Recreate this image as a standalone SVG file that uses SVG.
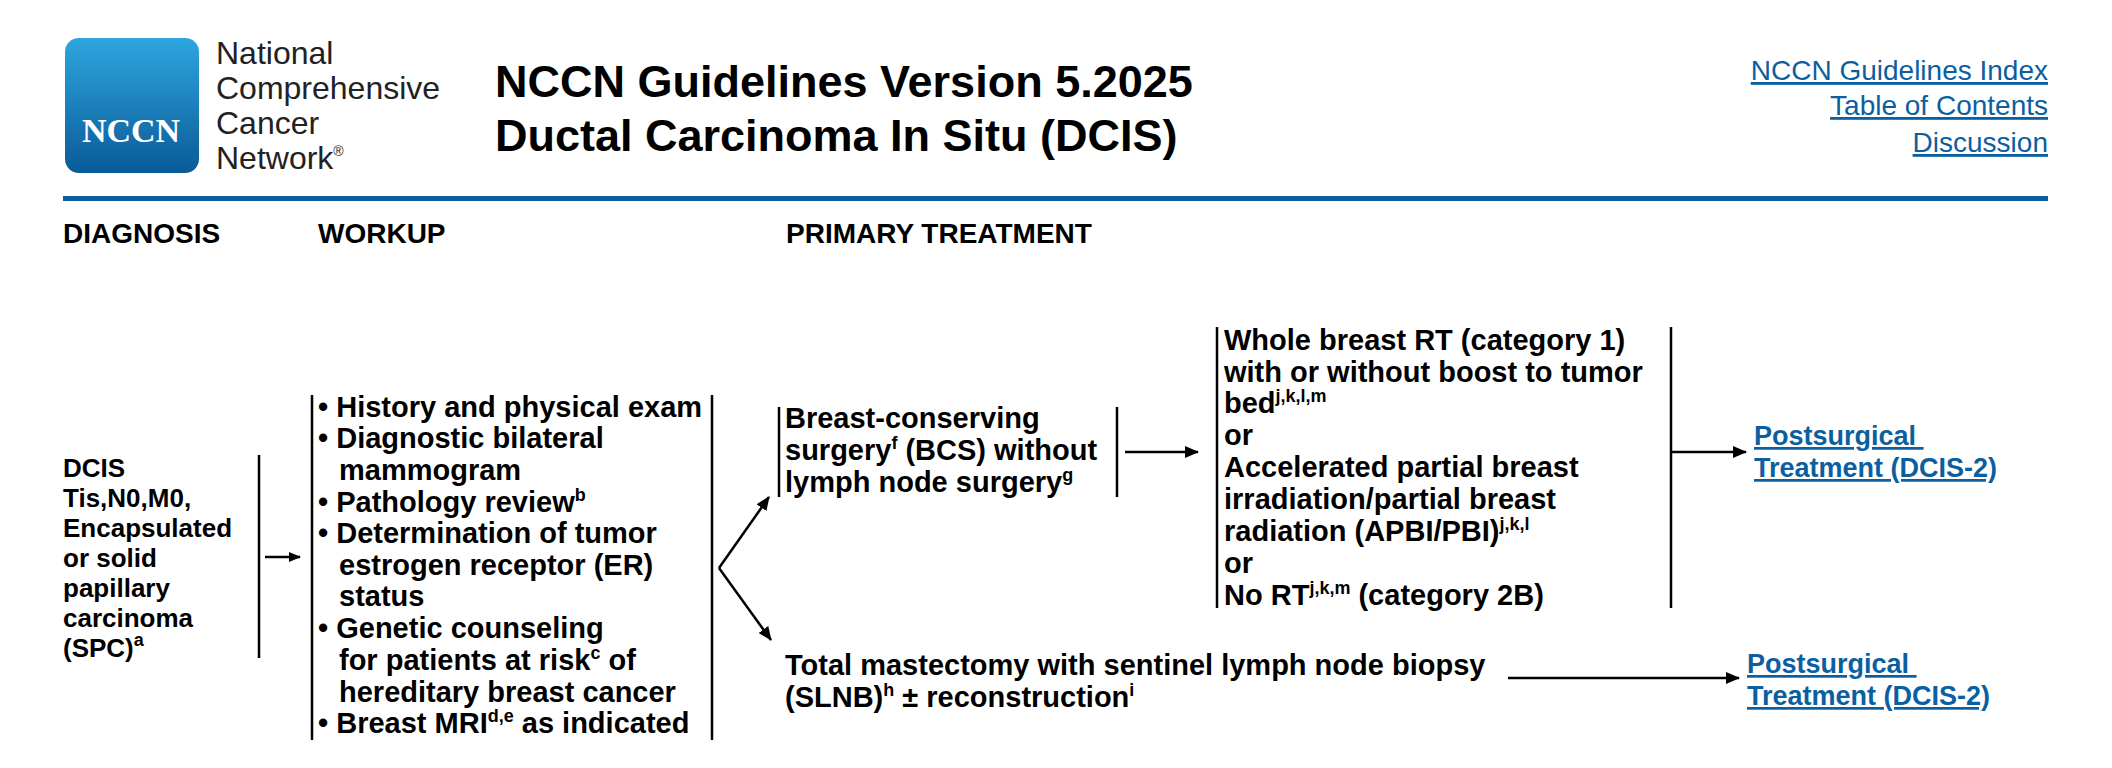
<svg xmlns="http://www.w3.org/2000/svg" width="2112" height="768" viewBox="0 0 2112 768">
<defs>
<linearGradient id="lg" x1="0" y1="0" x2="0" y2="1"><stop offset="0" stop-color="#2ea6df"/><stop offset="1" stop-color="#0a5a98"/></linearGradient>
<marker id="ah" markerWidth="14" markerHeight="12" refX="13" refY="6" orient="auto" markerUnits="userSpaceOnUse"><path d="M0,0 L14,6 L0,12 z" fill="#000"/></marker>
<marker id="ahs" markerWidth="12" markerHeight="10" refX="11" refY="5" orient="auto" markerUnits="userSpaceOnUse"><path d="M0,0 L12,5 L0,10 z" fill="#000"/></marker>
</defs>
<style>
text{font-family:"Liberation Sans",Arial,sans-serif;fill:#000}
.b{font-weight:bold;font-size:29px}
.d{font-weight:bold;font-size:26px}
.h{font-weight:bold;font-size:28px}
.t{font-weight:bold;font-size:45px}
.org{font-size:32px;fill:#222}
.lk{font-size:28px;fill:#0b5fa0;text-decoration:underline}
.lkb{font-weight:bold;font-size:27px;fill:#0b5fa0;text-decoration:underline}
.sup{font-size:18px}
.bar{stroke:#000;stroke-width:2.5;fill:none}
.c{stroke:#000;stroke-width:2.5;fill:none}
</style>
<g id="header">
<rect x="65" y="38" width="134" height="135" rx="14" fill="url(#lg)"/>
<text x="131" y="142" text-anchor="middle" style="font-family:'Liberation Serif',serif;font-size:34px;font-weight:bold;fill:#fff">NCCN</text>
<text class="org" x="216" y="64">National</text>
<text class="org" x="216" y="99">Comprehensive</text>
<text class="org" x="216" y="134">Cancer</text>
<text class="org" x="216" y="169">Network<tspan font-size="14" dy="-13">®</tspan></text>
<text class="t" x="495" y="97">NCCN Guidelines Version 5.2025</text>
<text class="t" x="495" y="151">Ductal Carcinoma In Situ (DCIS)</text>
<text class="lk" x="2048" y="80" text-anchor="end">NCCN Guidelines Index</text>
<text class="lk" x="2048" y="115" text-anchor="end">Table of Contents</text>
<text class="lk" x="2048" y="152" text-anchor="end">Discussion</text>
<rect x="63" y="196" width="1985" height="5" fill="#0b5fa0"/>
<text class="h" x="63" y="243">DIAGNOSIS</text>
<text class="h" x="318" y="243">WORKUP</text>
<text class="h" x="786" y="243">PRIMARY TREATMENT</text>
</g>
<g id="diagnosis">
<text class="d"><tspan x="63" y="477">DCIS</tspan><tspan x="63" y="507">Tis,N0,M0,</tspan><tspan x="63" y="537">Encapsulated</tspan><tspan x="63" y="567">or solid</tspan><tspan x="63" y="597">papillary</tspan><tspan x="63" y="627">carcinoma</tspan><tspan x="63" y="657">(SPC)<tspan class="sup" dy="-11">a</tspan></tspan></text>
<line class="bar" x1="259" y1="455" x2="259" y2="658"/>
</g>
<g id="workup">
<line class="bar" x1="312" y1="395" x2="312" y2="740"/>
<line class="bar" x1="712" y1="395" x2="712" y2="740"/>
<text class="b"><tspan x="318" y="417">• History and physical exam</tspan><tspan x="318" y="448">• Diagnostic bilateral</tspan><tspan x="339" y="480">mammogram</tspan><tspan x="318" y="512">• Pathology review<tspan class="sup" dy="-11">b</tspan></tspan><tspan x="318" y="543">• Determination of tumor</tspan><tspan x="339" y="575">estrogen receptor (ER)</tspan><tspan x="339" y="606">status</tspan><tspan x="318" y="638">• Genetic counseling</tspan><tspan x="339" y="670">for patients at risk<tspan class="sup" dy="-11">c</tspan><tspan dy="11"> of</tspan></tspan><tspan x="339" y="702">hereditary breast cancer</tspan><tspan x="318" y="733">• Breast MRI<tspan class="sup" dy="-11">d,e</tspan><tspan dy="11"> as indicated</tspan></tspan></text>
</g>
<g id="bcs">
<line class="bar" x1="779" y1="407" x2="779" y2="497"/>
<line class="bar" x1="1117" y1="407" x2="1117" y2="497"/>
<text class="b"><tspan x="785" y="428">Breast-conserving</tspan><tspan x="785" y="460">surgery<tspan class="sup" dy="-11">f</tspan><tspan dy="11"> (BCS) without</tspan></tspan><tspan x="785" y="492">lymph node surgery<tspan class="sup" dy="-11">g</tspan></tspan></text>
</g>
<g id="rt">
<line class="bar" x1="1217" y1="327" x2="1217" y2="608"/>
<line class="bar" x1="1671" y1="327" x2="1671" y2="608"/>
<text class="b"><tspan x="1224" y="350">Whole breast RT (category 1)</tspan><tspan x="1224" y="382">with or without boost to tumor</tspan><tspan x="1224" y="413">bed<tspan class="sup" dy="-11">j,k,l,m</tspan></tspan><tspan x="1224" y="445">or</tspan><tspan x="1224" y="477">Accelerated partial breast</tspan><tspan x="1224" y="509">irradiation/partial breast</tspan><tspan x="1224" y="541">radiation (APBI/PBI)<tspan class="sup" dy="-11">j,k,l</tspan></tspan><tspan x="1224" y="573">or</tspan><tspan x="1224" y="605">No RT<tspan class="sup" dy="-11">j,k,m</tspan><tspan dy="11"> (category 2B)</tspan></tspan></text>
</g>
<g id="mastectomy">
<text class="b"><tspan x="785" y="675">Total mastectomy with sentinel lymph node biopsy</tspan><tspan x="785" y="707">(SLNB)<tspan class="sup" dy="-11">h</tspan><tspan dy="11"> ± reconstruction</tspan><tspan class="sup" dy="-11">i</tspan></tspan></text>
</g>
<g id="post1"><text class="lkb"><tspan x="1754" y="445">Postsurgical </tspan><tspan x="1754" y="477">Treatment (DCIS-2)</tspan></text></g>
<g id="post2"><text class="lkb"><tspan x="1747" y="673">Postsurgical </tspan><tspan x="1747" y="705">Treatment (DCIS-2)</tspan></text></g>
<g id="connectors">
<line class="c" x1="265" y1="557" x2="300" y2="557" marker-end="url(#ahs)"/>
<line class="c" x1="719" y1="568" x2="769" y2="497" marker-end="url(#ah)"/>
<line class="c" x1="719" y1="568" x2="771" y2="640" marker-end="url(#ah)"/>
<line class="c" x1="1125" y1="452" x2="1198" y2="452" marker-end="url(#ah)"/>
<line class="c" x1="1671" y1="452" x2="1746" y2="452" marker-end="url(#ah)"/>
<line class="c" x1="1508" y1="678" x2="1739" y2="678" marker-end="url(#ah)"/>
</g>
</svg>
